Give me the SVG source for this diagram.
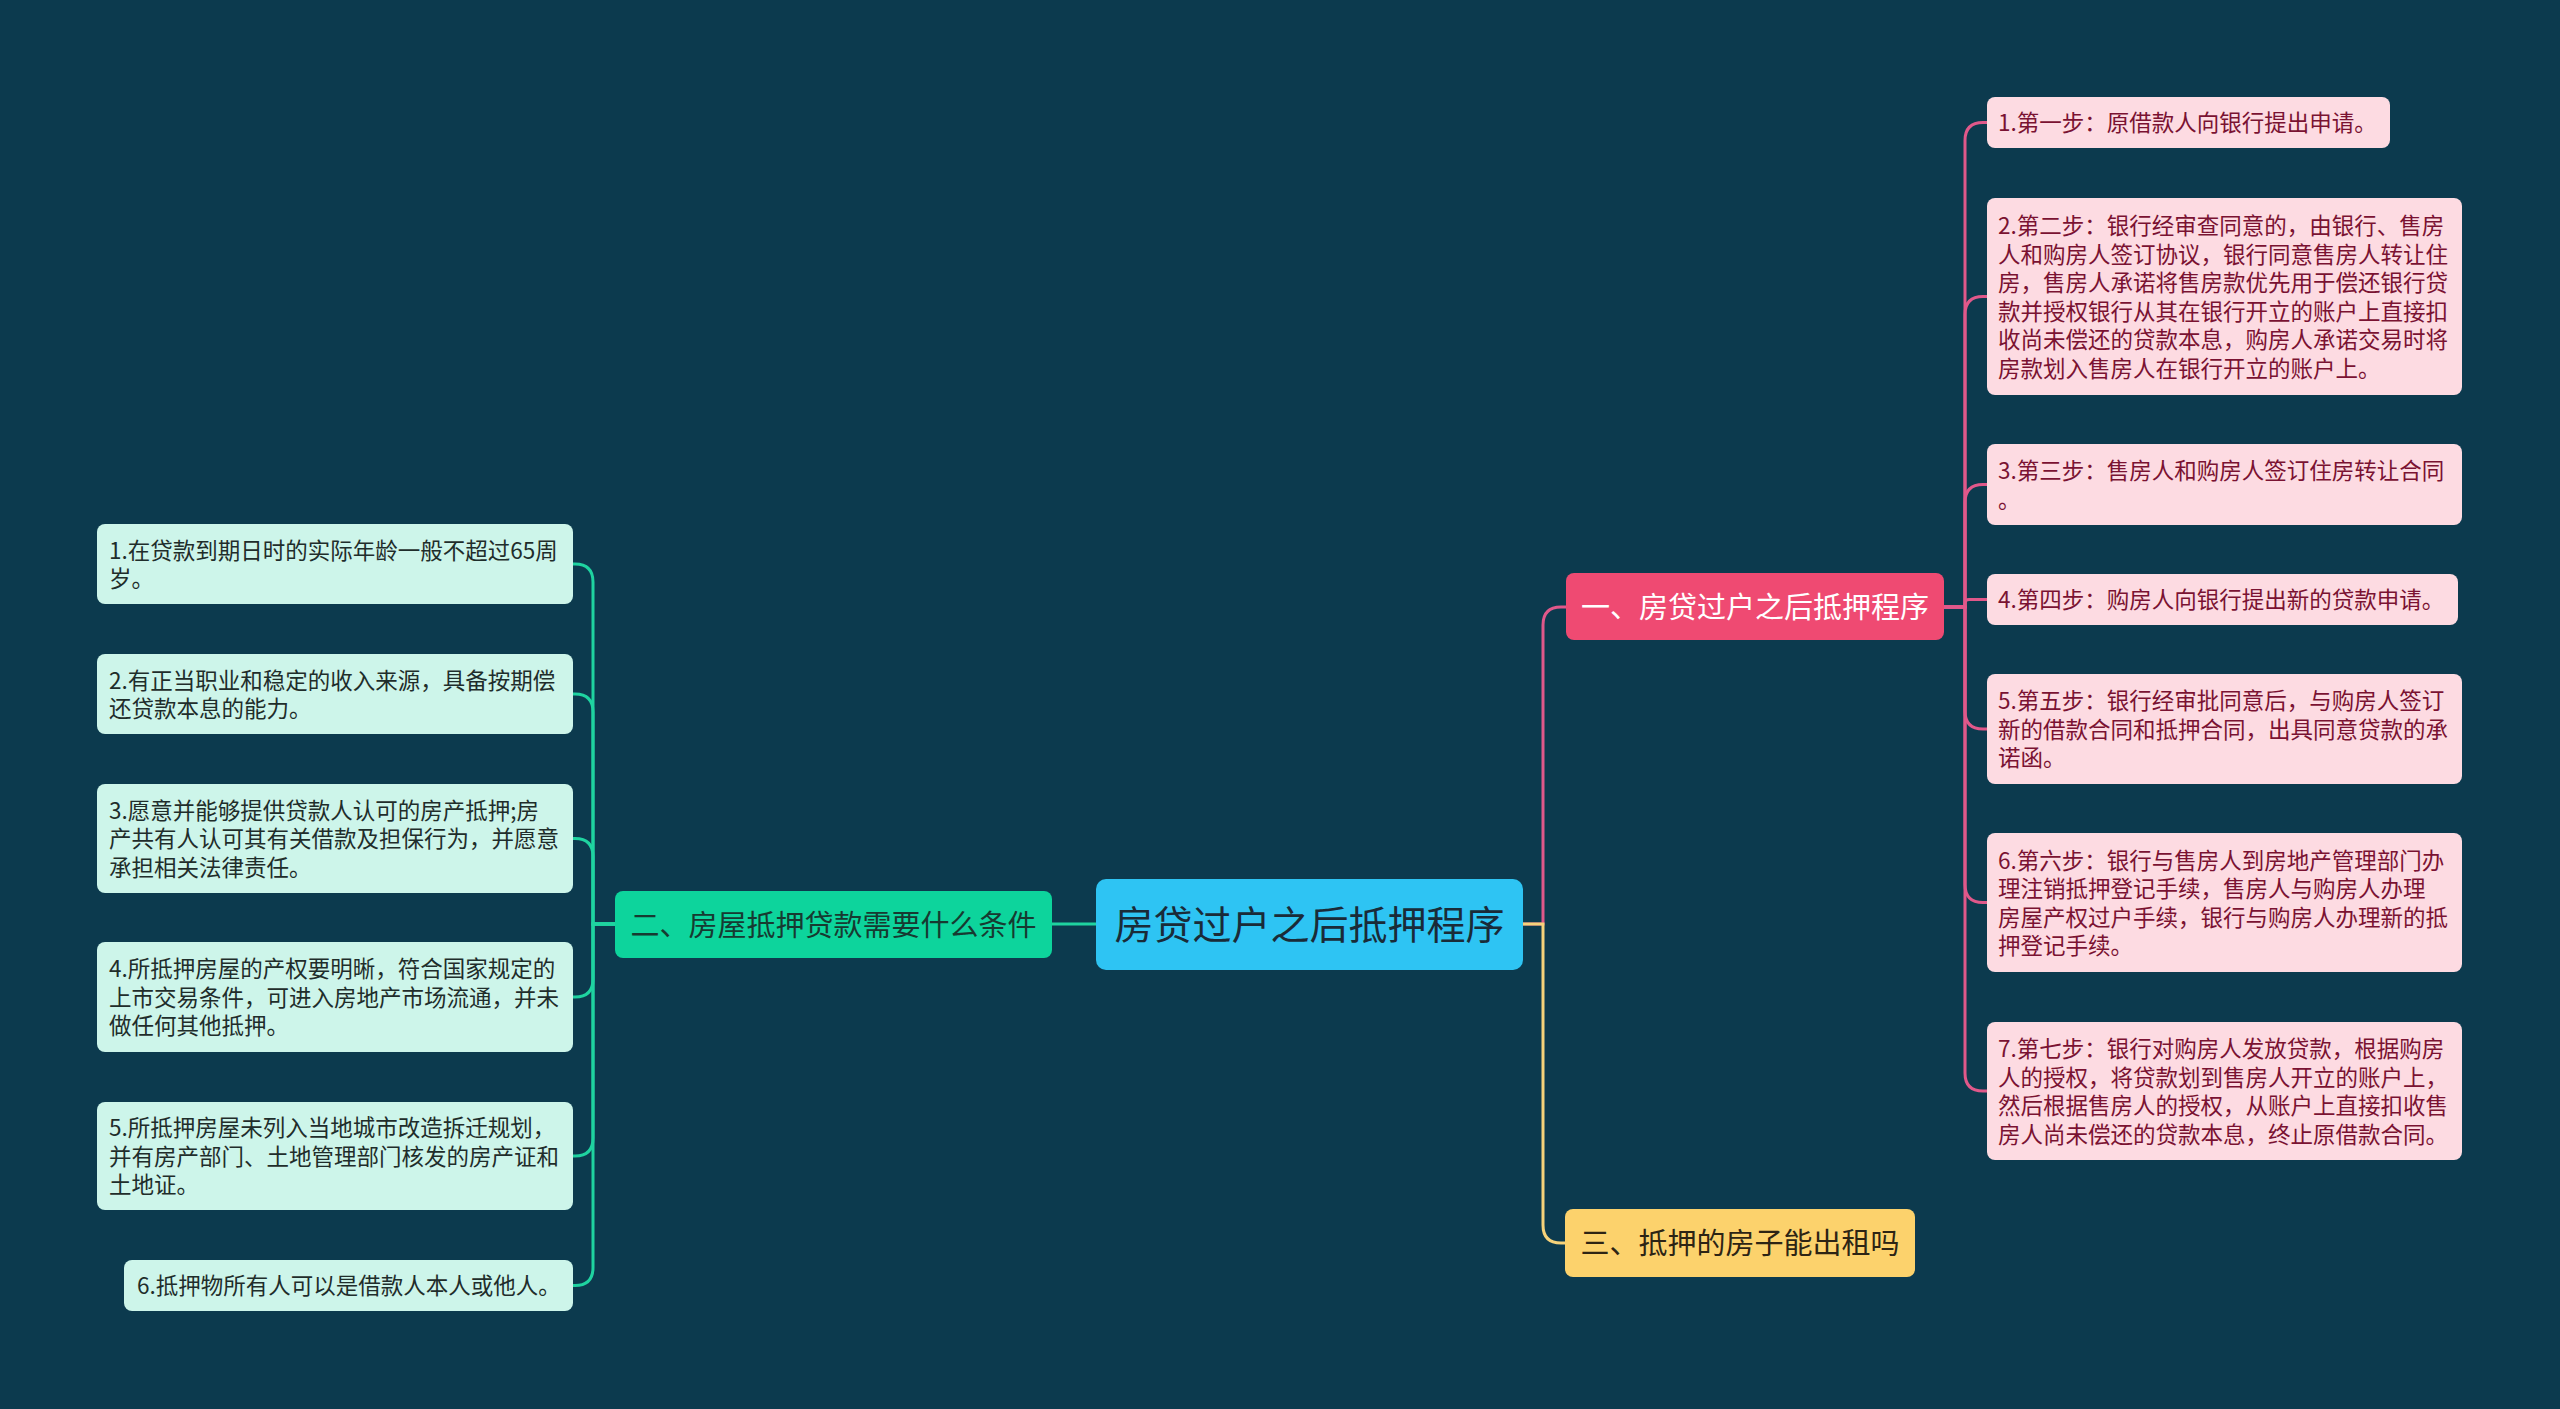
<svg xmlns="http://www.w3.org/2000/svg" width="2560" height="1409" viewBox="0 0 2560 1409">
<style>
text{font-family:"Noto Sans CJK SC","Noto Sans",sans-serif;dominant-baseline:central}
.leafR rect{fill:#fddbe2}
.leafR text{fill:#7a1232;font-size:22.5px}
.leafL rect{fill:#cdf5ea}
.leafL text{fill:#1f2d2b;font-size:22.5px}
.br text{font-size:29px;text-anchor:middle}
.c{fill:none;stroke-width:3;stroke-linecap:round}
.pk{stroke:#e0588a}
.gr{stroke:#1fd3a0}
.yl{stroke:#f6d27a}
</style>
<rect width="2560" height="1409" fill="#0c3a4e"/>
<g id="connectors">
<path class="c gr" d="M1096 924 H1052"/>
<path class="c pk" d="M1523 924 H1543 V625 Q1543 607 1561 607 H1566"/>
<path class="c yl" d="M1523 924 H1543 V1225 Q1543 1243 1561 1243 H1565"/>
<path class="c pk" d="M1944 607 H1965 V140.5 Q1965 122.5 1983 122.5 H1987"/>
<path class="c pk" d="M1944 607 H1965 V314.5 Q1965 296.5 1983 296.5 H1987"/>
<path class="c pk" d="M1944 607 H1965 V502.5 Q1965 484.5 1983 484.5 H1987"/>
<path class="c pk" d="M1944 607 H1965 V603 Q1965 599.5 1969 599.5 H1987"/>
<path class="c pk" d="M1944 607 H1965 V711 Q1965 729 1983 729 H1987"/>
<path class="c pk" d="M1944 607 H1965 V884.5 Q1965 902.5 1983 902.5 H1987"/>
<path class="c pk" d="M1944 607 H1965 V1073 Q1965 1091 1983 1091 H1987"/>
<path class="c gr" d="M615 924 H593 V582 Q593 564 575 564 H573"/>
<path class="c gr" d="M615 924 H593 V712 Q593 694 575 694 H573"/>
<path class="c gr" d="M615 924 H593 V856.5 Q593 838.5 575 838.5 H573"/>
<path class="c gr" d="M615 924 H593 V979 Q593 997 575 997 H573"/>
<path class="c gr" d="M615 924 H593 V1138 Q593 1156 575 1156 H573"/>
<path class="c gr" d="M615 924 H593 V1267.5 Q593 1285.5 575 1285.5 H573"/>
</g>
<g id="central">
<rect x="1096" y="879" width="427" height="91" rx="10" fill="#2ec4f3"/>
<text x="1309.5" y="922" font-size="39" text-anchor="middle" fill="#1a2b38">房贷过户之后抵押程序</text>
</g>
<g id="branch1" class="br">
<rect x="1566" y="573" width="378" height="67" rx="8" fill="#ef4a72"/>
<text x="1755" y="605" fill="#ffffff">一、房贷过户之后抵押程序</text>
</g>
<g id="branch2" class="br">
<rect x="615" y="891" width="437" height="67" rx="8" fill="#0dd49c"/>
<text x="833.5" y="923" fill="#173a31">二、房屋抵押贷款需要什么条件</text>
</g>
<g id="branch3" class="br">
<rect x="1565" y="1209" width="350" height="68" rx="8" fill="#fcd26c"/>
<text x="1740" y="1241" fill="#2d2414">三、抵押的房子能出租吗</text>
</g>
<g id="r1" class="leafR">
<rect x="1987" y="97" width="403" height="51" rx="8"/>
<text x="1998" y="121">1.第一步：原借款人向银行提出申请。</text>
</g>
<g id="r2" class="leafR">
<rect x="1987" y="198" width="475" height="197" rx="8"/>
<text x="1998" y="224">2.第二步：银行经审查同意的，由银行、售房</text>
<text x="1998" y="252.5">人和购房人签订协议，银行同意售房人转让住</text>
<text x="1998" y="281">房，售房人承诺将售房款优先用于偿还银行贷</text>
<text x="1998" y="309.5">款并授权银行从其在银行开立的账户上直接扣</text>
<text x="1998" y="338">收尚未偿还的贷款本息，购房人承诺交易时将</text>
<text x="1998" y="366.5">房款划入售房人在银行开立的账户上。</text>
</g>
<g id="r3" class="leafR">
<rect x="1987" y="444" width="475" height="81" rx="8"/>
<text x="1998" y="469">3.第三步：售房人和购房人签订住房转让合同</text>
<text x="1998" y="497.5">。</text>
</g>
<g id="r4" class="leafR">
<rect x="1987" y="574" width="471" height="51" rx="8"/>
<text x="1998" y="598">4.第四步：购房人向银行提出新的贷款申请。</text>
</g>
<g id="r5" class="leafR">
<rect x="1987" y="674" width="475" height="110" rx="8"/>
<text x="1998" y="699">5.第五步：银行经审批同意后，与购房人签订</text>
<text x="1998" y="727.5">新的借款合同和抵押合同，出具同意贷款的承</text>
<text x="1998" y="756">诺函。</text>
</g>
<g id="r6" class="leafR">
<rect x="1987" y="833" width="475" height="139" rx="8"/>
<text x="1998" y="858.5">6.第六步：银行与售房人到房地产管理部门办</text>
<text x="1998" y="887">理注销抵押登记手续，售房人与购房人办理</text>
<text x="1998" y="915.5">房屋产权过户手续，银行与购房人办理新的抵</text>
<text x="1998" y="944">押登记手续。</text>
</g>
<g id="r7" class="leafR">
<rect x="1987" y="1022" width="475" height="138" rx="8"/>
<text x="1998" y="1047">7.第七步：银行对购房人发放贷款，根据购房</text>
<text x="1998" y="1075.5">人的授权，将贷款划到售房人开立的账户上，</text>
<text x="1998" y="1104">然后根据售房人的授权，从账户上直接扣收售</text>
<text x="1998" y="1132.5">房人尚未偿还的贷款本息，终止原借款合同。</text>
</g>
<g id="l1" class="leafL">
<rect x="97" y="524" width="476" height="80" rx="8"/>
<text x="109" y="548.5">1.在贷款到期日时的实际年龄一般不超过65周</text>
<text x="109" y="577">岁。</text>
</g>
<g id="l2" class="leafL">
<rect x="97" y="654" width="476" height="80" rx="8"/>
<text x="109" y="678.5">2.有正当职业和稳定的收入来源，具备按期偿</text>
<text x="109" y="707">还贷款本息的能力。</text>
</g>
<g id="l3" class="leafL">
<rect x="97" y="784" width="476" height="109" rx="8"/>
<text x="109" y="808.5">3.愿意并能够提供贷款人认可的房产抵押;房</text>
<text x="109" y="837">产共有人认可其有关借款及担保行为，并愿意</text>
<text x="109" y="865.5">承担相关法律责任。</text>
</g>
<g id="l4" class="leafL">
<rect x="97" y="942" width="476" height="110" rx="8"/>
<text x="109" y="967">4.所抵押房屋的产权要明晰，符合国家规定的</text>
<text x="109" y="995.5">上市交易条件，可进入房地产市场流通，并未</text>
<text x="109" y="1024">做任何其他抵押。</text>
</g>
<g id="l5" class="leafL">
<rect x="97" y="1102" width="476" height="108" rx="8"/>
<text x="109" y="1126">5.所抵押房屋未列入当地城市改造拆迁规划，</text>
<text x="109" y="1154.5">并有房产部门、土地管理部门核发的房产证和</text>
<text x="109" y="1183">土地证。</text>
</g>
<g id="l6" class="leafL">
<rect x="124" y="1260" width="449" height="51" rx="8"/>
<text x="137" y="1284">6.抵押物所有人可以是借款人本人或他人。</text>
</g>
</svg>
